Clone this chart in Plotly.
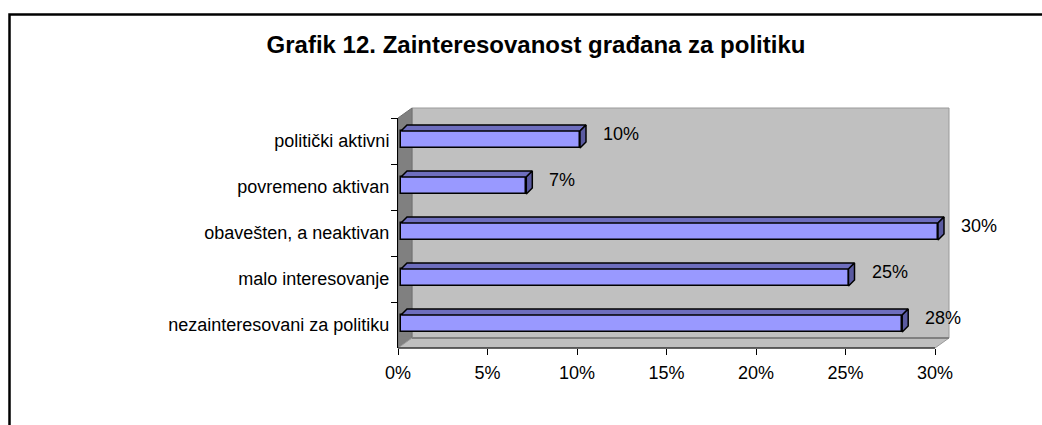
import plotly.graph_objects as go

categories = ["politički aktivni", "povremeno aktivan", "obavešten, a neaktivan",
              "malo interesovanje", "nezainteresovani za politiku"]
values = [10, 7, 30, 25, 28]
x_ticks = [0, 5, 10, 15, 20, 25, 30]
x_tick_labels = ["0%", "5%", "10%", "15%", "20%", "25%", "30%"]
title = "Grafik 12. Zainteresovanost građana za politiku"

W, H = 1042, 425
L, R, T, B = 398, 42, 118, 77          # margins (px)
plot_w = W - L - R
plot_h = H - T - B
ppu = 537 / 30                          # px per percent
cat_px = plot_h / len(categories)
x_max = plot_w / ppu

FONT = "Liberation Sans, Arial, sans-serif"
FRONT = "#9999FF"
TOP = "#6E6EBE"
SIDE = "#5A5AA0"


def px_x(p):
    return (p - L) / plot_w


def px_y(p):
    return (H - B - p) / plot_h


# 3d geometry (in px, converted to data units)
base = 3 / ppu
bar_w = 17 / cat_px
shift = -1.5 / cat_px
ddx, ddy = 6 / ppu, 6 / cat_px

fig = go.Figure()
fig.add_trace(go.Bar(
    y=categories, x=values, base=base, orientation="h",
    width=bar_w, offset=-bar_w / 2 + shift,
    marker=dict(color=FRONT, line=dict(color="black", width=1.5)),
    hoverinfo="skip",
))

# top and side faces of each bar, on a hidden numeric overlay axis
for i, v in enumerate(values):
    yt = i + shift - bar_w / 2
    yb = yt + bar_w
    xe = base + v
    fig.add_trace(go.Scatter(
        x=[base, base + ddx, xe + ddx, xe, base],
        y=[yt, yt - ddy, yt - ddy, yt, yt], yaxis="y2",
        fill="toself", fillcolor=TOP, mode="lines",
        line=dict(color="black", width=1.5), hoverinfo="skip", showlegend=False))
    fig.add_trace(go.Scatter(
        x=[xe, xe + ddx, xe + ddx, xe, xe],
        y=[yt, yt - ddy, yb - ddy, yb, yt], yaxis="y2",
        fill="toself", fillcolor=SIDE, mode="lines",
        line=dict(color="black", width=1.5), hoverinfo="skip", showlegend=False))
    fig.add_annotation(x=xe, y=i, xref="x", yref="y2", text=f"{v}%",
                       showarrow=False, xanchor="left", xshift=21, yshift=7,
                       font=dict(size=18, color="black", family=FONT))

# walls and floor
x0 = L
x30 = L + 30 * ppu
dpx, dpy = 14, 10
top_px, bot_px = T, H - B
shapes = [
    dict(type="rect", xref="paper", yref="paper",
         x0=px_x(x0 + dpx), x1=px_x(x30 + dpx), y0=px_y(bot_px - dpy), y1=px_y(top_px - dpy),
         fillcolor="#C0C0C0", line=dict(color="#9A9A9A", width=1), layer="below"),
    dict(type="path", xref="paper", yref="paper",
         path=f"M {px_x(x0)} {px_y(top_px)} L {px_x(x0 + dpx)} {px_y(top_px - dpy)} "
              f"L {px_x(x0 + dpx)} {px_y(bot_px - dpy)} L {px_x(x0)} {px_y(bot_px)} Z",
         fillcolor="#808080", line=dict(color="#707070", width=1), layer="below"),
    dict(type="path", xref="paper", yref="paper",
         path=f"M {px_x(x0)} {px_y(bot_px)} L {px_x(x0 + dpx)} {px_y(bot_px - dpy)} "
              f"L {px_x(x30 + dpx)} {px_y(bot_px - dpy)} L {px_x(x30)} {px_y(bot_px)} Z",
         fillcolor="#C0C0C0", line=dict(color="#9A9A9A", width=1), layer="below"),
    dict(type="line", xref="paper", yref="paper",
         x0=px_x(x0 + dpx), x1=px_x(x30 + dpx), y0=px_y(bot_px - dpy), y1=px_y(bot_px - dpy),
         line=dict(color="#808080", width=2), layer="below"),
    # front x axis line
    dict(type="line", xref="paper", yref="paper",
         x0=px_x(x0), x1=px_x(x30), y0=0, y1=0,
         line=dict(color="black", width=1)),
    # outer chart border (only left/top visible)
    dict(type="path", xref="paper", yref="paper",
         path=f"M {px_x(9.5)} {px_y(440)} L {px_x(9.5)} {px_y(14.5)} L {px_x(1060)} {px_y(14.5)}",
         line=dict(color="black", width=2.5)),
]

fig.update_layout(
    width=W, height=H,
    margin=dict(l=L, r=R, t=T, b=B),
    paper_bgcolor="white", plot_bgcolor="rgba(0,0,0,0)",
    showlegend=False, bargap=0,
    shapes=shapes,
    title=dict(text=f"<b>{title}</b>", x=536 / W, xanchor="center",
               y=1 - 45 / H, yanchor="middle", yref="container",
               font=dict(size=24, color="black", family=FONT)),
    font=dict(family=FONT, size=18, color="black"),
    xaxis=dict(range=[0, x_max], tickvals=x_ticks, ticktext=x_tick_labels,
               ticks="outside", ticklen=6, tickcolor="black", showline=False,
               ticklabelstandoff=2,
               showgrid=False, zeroline=False, fixedrange=True,
               tickfont=dict(size=18, color="black", family=FONT)),
    yaxis=dict(type="category", range=[len(categories) - 0.5, -0.5],
               tickson="boundaries", ticks="outside", ticklen=6, tickcolor="black",
               ticklabelstandoff=4,
               showline=True, linecolor="black", linewidth=1,
               showgrid=False, zeroline=False, fixedrange=True,
               tickfont=dict(size=18, color="black", family=FONT)),
    yaxis2=dict(type="linear", overlaying="y", range=[len(categories) - 0.5, -0.5],
                visible=False, fixedrange=True),
)

fig.write_html("out.html", config={"displayModeBar": False},
               post_script="document.body.style.margin='0';document.body.style.overflow='hidden';")
